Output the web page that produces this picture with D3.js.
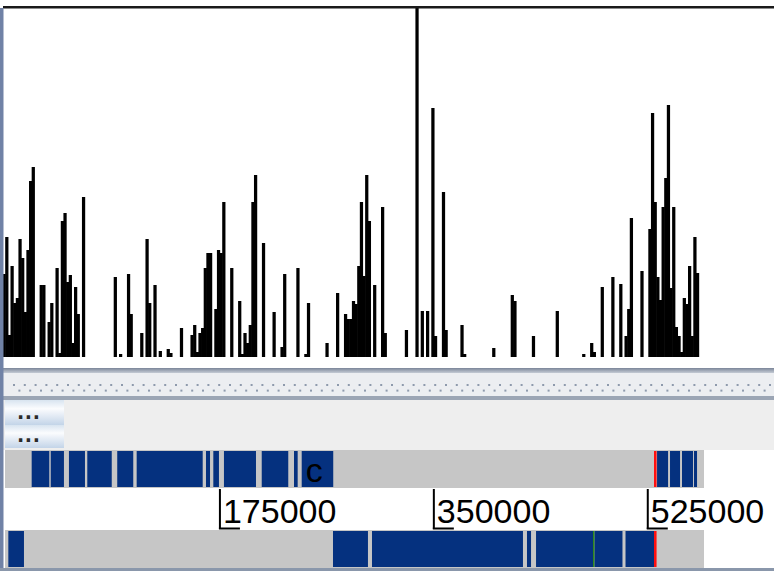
<!DOCTYPE html>
<html><head><meta charset="utf-8">
<script src="https://cdn.jsdelivr.net/npm/d3@7"></script>
<style>html,body{margin:0;padding:0;background:#fff;overflow:hidden}</style>
</head><body><svg id="c" width="774" height="571"></svg>
<script>
// ---------- DATA ----------
const genomeLength = 571000;
const windowSize = 2165;
// graph value per window (window i covers [i*windowSize, (i+1)*windowSize))
const windowValues = [
 83,120,22,91,54,59,118,99,45,107,176,190,0,0,72,72,0,35,54,0,
 89,4,136,144,75,82,14,70,43,0,160,0,0,0,0,0,0,0,0,0,
 0,0,80,0,3,0,0,83,43,0,0,0,24,0,118,54,0,72,0,6,
 0,0,8,4,0,0,0,29,0,0,0,22,32,5,24,29,89,104,104,0,
 48,107,104,155,0,0,89,0,0,56,3,24,14,32,155,182,0,0,114,0,
 0,0,45,0,0,10,83,0,0,0,0,89,0,0,3,54,0,0,0,0,
 0,0,14,0,0,0,64,0,0,43,38,38,56,53,91,155,81,182,136,0,
 72,0,0,150,24,0,0,0,0,0,0,0,27,0,0,0,349,0,46,0,
 46,0,249,21,0,0,165,27,0,0,0,0,0,32,3,0,0,0,0,0,
 0,0,0,0,0,9,0,0,0,0,0,0,62,56,0,0,0,0,0,0,
 21,0,0,0,0,0,0,0,0,46,0,0,0,0,0,0,0,0,0,3,
 0,0,14,5,0,0,70,0,0,0,80,0,0,73,0,21,48,139,0,0,
 0,86,0,0,128,244,155,80,57,150,179,252,69,150,30,21,5,59,53,91,
 21,120,84,0
];
const graphMax = 349;

const forwardFeatures = [
 {start:21000,end:35400,type:"CDS"},
 {start:36600,end:47400,type:"CDS"},
 {start:51500,end:64600,type:"CDS"},
 {start:66500,end:86500,type:"CDS"},
 {start:91000,end:104100,type:"CDS"},
 {start:106900,end:160900,type:"CDS"},
 {start:163600,end:166900,type:"CDS"},
 {start:169600,end:174200,type:"CDS"},
 {start:178300,end:204500,type:"CDS"},
 {start:209200,end:230900,type:"CDS"},
 {start:235600,end:238600,type:"CDS"},
 {start:241900,end:267700,type:"CDS",label:"c"},
 {start:530100,end:532200,type:"tRNA"},
 {start:532600,end:541600,type:"CDS"},
 {start:543200,end:551400,type:"CDS"},
 {start:553000,end:562000,type:"CDS"},
 {start:562800,end:565300,type:"CDS"}
];
const reverseFeatures = [
 {start:1900,end:14700,type:"CDS"},
 {start:267500,end:296100,type:"CDS"},
 {start:299400,end:422900,type:"CDS"},
 {start:426200,end:429500,type:"CDS"},
 {start:433600,end:480200,type:"CDS"},
 {start:480200,end:481500,type:"ncRNA"},
 {start:481500,end:504300,type:"CDS"},
 {start:506800,end:530100,type:"CDS"},
 {start:530100,end:532200,type:"tRNA"}
];
const tickValues = [175000, 350000, 525000];
const buttonLabels = ["...", "..."];

// ---------- DRAW ----------
const svg = d3.select("#c");
const defs = svg.append("defs");
const g1 = defs.append("linearGradient").attr("id","btn").attr("x1",0).attr("x2",0).attr("y1",0).attr("y2",1);
g1.append("stop").attr("offset","0%").attr("stop-color","#d8e4f0");
g1.append("stop").attr("offset","35%").attr("stop-color","#fbfcfe");
g1.append("stop").attr("offset","100%").attr("stop-color","#c3d4e8");
const g2 = defs.append("linearGradient").attr("id","sep").attr("x1",0).attr("x2",0).attr("y1",0).attr("y2",1);
g2.append("stop").attr("offset","0%").attr("stop-color","#7b8699");
g2.append("stop").attr("offset","100%").attr("stop-color","#c4cad4");

// graph panel
const plotX = d3.scaleLinear().domain([0, genomeLength]).range([2.7, 2.7 + 698]);
const plotY = d3.scaleLinear().domain([0, graphMax]).range([357, 8]);
svg.append("g").selectAll("rect").data(windowValues.map((v,i)=>({i,v})).filter(d=>d.v>0))
  .join("rect")
  .attr("x", d=>plotX(d.i*windowSize) - 0.15)
  .attr("width", d=>plotX((d.i+1)*windowSize)-plotX(d.i*windowSize) + 0.6)
  .attr("y", d=>plotY(d.v))
  .attr("height", d=>plotY(0)-plotY(d.v))
  .attr("fill","#000");
svg.append("rect").attr("x",3).attr("y",6).attr("width",771).attr("height",2.5).attr("fill","#1a1a1a");

// splitter
svg.append("rect").attr("x",0).attr("y",368).attr("width",774).attr("height",5).attr("fill","url(#sep)");
svg.append("rect").attr("x",0).attr("y",373).attr("width",774).attr("height",23).attr("fill","#eceef1");
const dots = [];
d3.range(0, 72).forEach(k=>{ dots.push([14+k*10.8,385]); dots.push([19.4+k*10.8,390.6]); });
svg.append("g").selectAll("rect").data(dots).join("rect")
  .attr("x",d=>d[0]-1).attr("y",d=>d[1]-1).attr("width",2).attr("height",2).attr("fill","#8e9aac");
svg.append("rect").attr("x",0).attr("y",396).attr("width",774).attr("height",4).attr("fill","#9ba5b4");

// tool panel with buttons
svg.append("rect").attr("x",0).attr("y",400).attr("width",774).attr("height",50).attr("fill","#eeeeee");
[[400,425],[425,448]].forEach(([a,b],k)=>{
  svg.append("rect").attr("x",5).attr("y",a).attr("width",59).attr("height",b-a).attr("fill","url(#btn)");
  svg.append("text").attr("x",17).attr("y",b-6.5).attr("font-family","DejaVu Sans").attr("font-weight","bold")
    .attr("font-size",19).attr("letter-spacing",0.6).attr("fill","#2a2a2a").text(buttonLabels[k]);
});

// feature tracks
const gx = d3.scaleLinear().domain([0, genomeLength]).range([6, 704]);
const color = d3.scaleOrdinal().domain(["CDS","tRNA","ncRNA"]).range(["#05317f","#ff1010","#2f8a1a"]);
function track(features, y0, h){
  const g = svg.append("g");
  g.append("rect").attr("x",5).attr("y",y0).attr("width",gx(genomeLength)-5).attr("height",h).attr("fill","#c6c6c6");
  g.selectAll("rect.f").data(features).join("rect").attr("class","f")
    .attr("x",d=>gx(d.start)).attr("width",d=>gx(d.end)-gx(d.start))
    .attr("y",y0+1).attr("height",h-2).attr("fill",d=>color(d.type));
  g.selectAll("text").data(features.filter(d=>d.label)).join("text")
    .attr("x",d=>gx(d.start)+4).attr("y",y0+32)
    .attr("font-family","Liberation Sans").attr("font-size",34).attr("fill","#000").text(d=>d.label);
}
track(forwardFeatures, 450, 38);
track(reverseFeatures, 530, 38);

// ruler
const axisG = svg.append("g");
axisG.selectAll("g").data(tickValues).join("g").each(function(t){
  const s = d3.select(this), x = gx(t);
  s.append("line").attr("x1",x).attr("x2",x).attr("y1",489).attr("y2",529).attr("stroke","#000").attr("stroke-width",2);
  s.append("line").attr("x1",x-1).attr("x2",x+20).attr("y1",528.5).attr("y2",528.5).attr("stroke","#000").attr("stroke-width",2);
  s.append("text").attr("x",x+3).attr("y",523).attr("font-family","Liberation Sans").attr("font-size",34)
    .attr("fill","#000").text(t);
});

// window frame
svg.append("rect").attr("x",0).attr("y",8).attr("width",3.5).attr("height",563).attr("fill","#7082a6");
svg.append("rect").attr("x",0).attr("y",568).attr("width",774).attr("height",3).attr("fill","#8a97ab");
</script></body></html>
